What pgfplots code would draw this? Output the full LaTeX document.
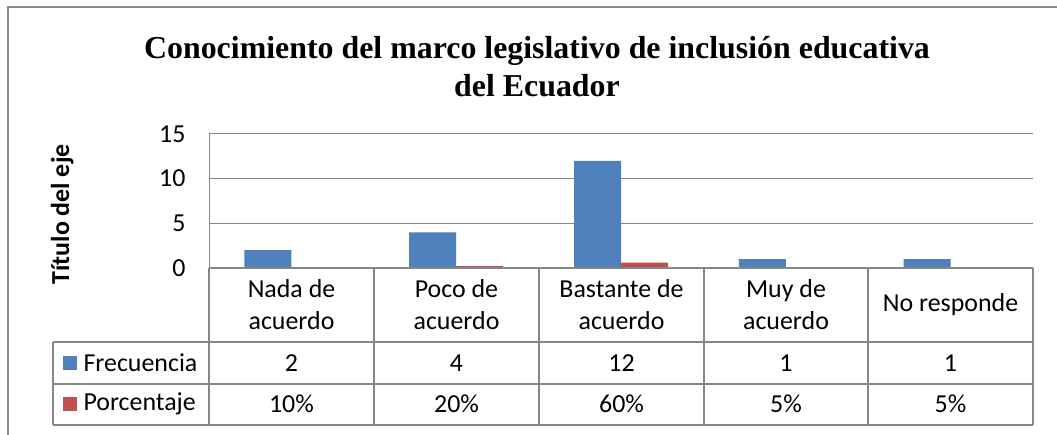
\documentclass[border=0pt]{standalone}
\usepackage{pgfplots}
\pgfplotsset{compat=1.18}
\usepackage{fontspec}
\setmainfont{Carlito}
\newfontfamily\titlefont{Liberation Serif}
\definecolor{serA}{HTML}{4F81BD}
\definecolor{serB}{HTML}{C0504D}
\definecolor{gridc}{HTML}{868686}
\definecolor{framec}{HTML}{8C8C8C}
\begin{document}
\begin{tikzpicture}[x=1bp,y=1bp]
\useasboundingbox (0,0) rectangle (1057,435);
\fill[white] (0,0) rectangle (1057,435);
\draw[framec,line width=1.2bp] (8,-10) -- (8,428) -- (1070,428);
% title
\node[font=\titlefont\bfseries\fontsize{32}{38}\selectfont,align=center] at (537,368)
  {Conocimiento del marco legislativo de inclusión educativa\\del Ecuador};
\begin{axis}[
  at={(209bp,167bp)}, anchor=south west,
  scale only axis, width=824bp, height=134bp,
  xmin=-0.5, xmax=4.5, ymin=0, ymax=15,
  ybar, bar width=47bp,
  axis x line=none,
  axis y line*=left, axis line style={gridc,line width=1bp,-},
  ytick={0,5,10,15}, ymajorgrids, grid style={gridc,line width=1bp},
  major tick length=0pt,
  /pgf/number format/assume math mode=true,
  yticklabel style={font=\fontsize{26}{30}\selectfont, xshift=-20bp},
  ylabel={Título del eje},
  ylabel style={font=\bfseries\fontsize{26}{30}\selectfont, at={(axis description cs:-0.178,0.40)}, anchor=center},
  clip=false,
]
\addplot[fill=serA, draw=none, bar shift=-23.5bp] coordinates {(0,2) (1,4) (2,12) (3,1) (4,1)};
\addplot[fill=serB, draw=none, bar shift=23.5bp] coordinates {(0,0.10) (1,0.20) (2,0.60) (3,0.05) (4,0.05)};
\end{axis}
% data table
\begin{scope}[gridc, line width=1.2bp]
\draw (209,167) -- (1033,167);
\draw (53,93) -- (1033,93);
\draw (53,51) -- (1033,51);
\draw (53,10) -- (1033,10);
\draw (53,93) -- (53,10);
\foreach \xx in {209,374,539,704,868,1033} \draw (\xx,167) -- (\xx,10);
\end{scope}
\begin{scope}[font=\fontsize{26}{32}\selectfont]
\node[align=center] at (291.5,130) {Nada de\\acuerdo};
\node[align=center] at (456.5,130) {Poco de\\acuerdo};
\node[align=center] at (621.5,130) {Bastante de\\acuerdo};
\node[align=center] at (786,130) {Muy de\\acuerdo};
\node[align=center] at (950.5,130) {No responde};
\fill[serA] (63,65) rectangle (77,79);
\fill[serB] (63,24) rectangle (77,38);
\node[anchor=west] at (80,72) {Frecuencia};
\node[anchor=west] at (80,31) {Porcentaje};
\node at (291.5,72) {2}; \node at (456.5,72) {4}; \node at (621.5,72) {12}; \node at (786,72) {1}; \node at (950.5,72) {1};
\node at (291.5,31) {10\%}; \node at (456.5,31) {20\%}; \node at (621.5,31) {60\%}; \node at (786,31) {5\%}; \node at (950.5,31) {5\%};
\end{scope}
\end{tikzpicture}
\end{document}
